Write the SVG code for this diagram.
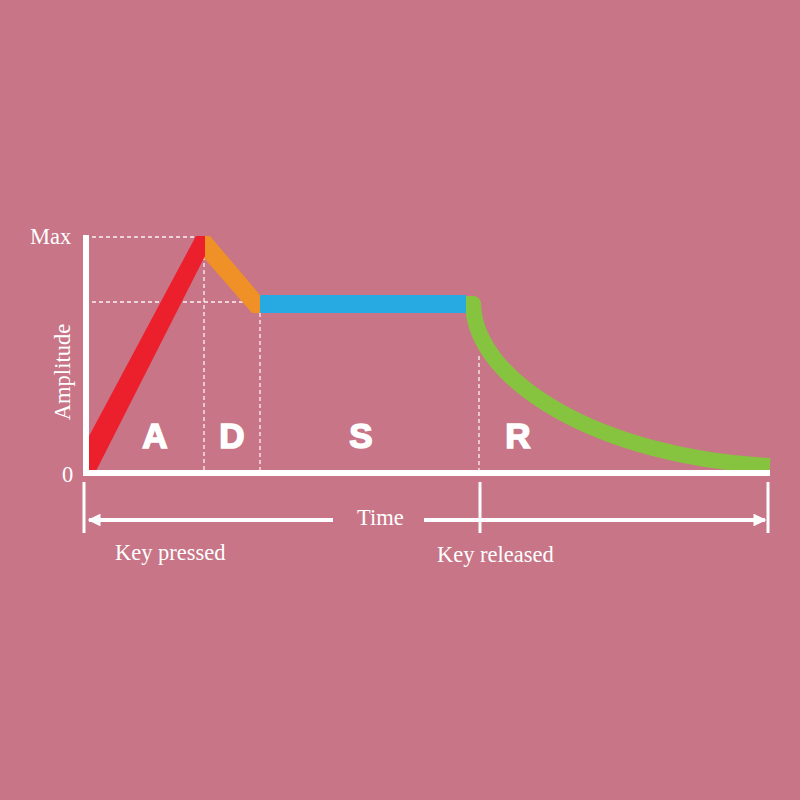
<svg xmlns="http://www.w3.org/2000/svg" width="800" height="800" viewBox="0 0 800 800">
  <defs>
    <style>
      .serif { font-family: "Liberation Serif", "DejaVu Serif", serif; fill: #ffffff; font-size: 22.5px; }
      .phase { font-family: "Liberation Sans", Arial, sans-serif; font-weight: bold; fill: #ffffff; stroke: #ffffff; stroke-width: 1.6; font-size: 35px; text-anchor: middle; }
      .guide { stroke: #ffffff; stroke-width: 1.3; stroke-dasharray: 4 3; fill: none; opacity: 0.9; }
      .axis { stroke: #ffffff; stroke-width: 6; fill: none; }
      .tick { stroke: #ffffff; stroke-width: 3; fill: none; }
      .arrow { stroke: #ffffff; stroke-width: 4; fill: none; }
    </style>
    <marker id="ahead" viewBox="0 0 10 10" refX="9" refY="5" markerWidth="3.2" markerHeight="3.2" orient="auto-start-reverse" markerUnits="strokeWidth">
      <path d="M0,0 L10,5 L0,10 z" fill="#ffffff"/>
    </marker>
  </defs>
  <rect x="0" y="0" width="800" height="800" fill="#c77587"/>

  <g id="guides">
    <line class="guide" x1="92" y1="237" x2="196" y2="237"/>
    <line class="guide" x1="92" y1="302" x2="250" y2="302"/>
    <line class="guide" x1="204" y1="256" x2="204" y2="470"/>
    <line class="guide" x1="260" y1="313" x2="260" y2="470"/>
    <line class="guide" x1="479" y1="356" x2="479" y2="470"/>
  </g>

  <g id="release">
    <path d="M473,304 C475,382 600,457 770,466" stroke="#86c43f" stroke-width="16" fill="none" stroke-linecap="butt"/>
    <path d="M465,305 L465,296 L473,296 A8,8 0 0 1 481,304 L481,305 Z" fill="#86c43f"/>
  </g>
  <g id="sustain">
    <rect x="259" y="295" width="207" height="18" fill="#27a9e1"/>
  </g>
  <g id="decay">
    <polygon points="204,236 210,236 260,295 260,313 252,313 204,258" fill="#ef9127"/>
  </g>
  <g id="attack">
    <polygon points="88,471 88,438 196,236 205,236 205,256 96,471" fill="#ec1f2d"/>
  </g>

  <g id="axes">
    <line class="axis" x1="86" y1="235" x2="86" y2="476"/>
    <line class="axis" x1="83" y1="473" x2="770" y2="473"/>
    <text class="serif" x="30" y="244">Max</text>
    <text class="serif" x="62" y="482">0</text>
    <text class="serif" transform="translate(70,372) rotate(-90)" text-anchor="middle">Amplitude</text>
  </g>

  <g id="phase-labels">
    <text class="phase" x="155" y="448">A</text>
    <text class="phase" x="232" y="448">D</text>
    <text class="phase" x="361" y="448">S</text>
    <text class="phase" x="518" y="448">R</text>
  </g>

  <g id="time-axis">
    <line class="tick" x1="84" y1="482" x2="84" y2="533"/>
    <line class="tick" x1="480" y1="482" x2="480" y2="533"/>
    <line class="tick" x1="768" y1="482" x2="768" y2="533"/>
    <line class="arrow" x1="333" y1="520" x2="89" y2="520" marker-end="url(#ahead)"/>
    <line class="arrow" x1="424" y1="520" x2="765" y2="520" marker-end="url(#ahead)"/>
    <text class="serif" x="357" y="525">Time</text>
    <text class="serif" x="115" y="560">Key pressed</text>
    <text class="serif" x="437" y="562">Key released</text>
  </g>
</svg>
